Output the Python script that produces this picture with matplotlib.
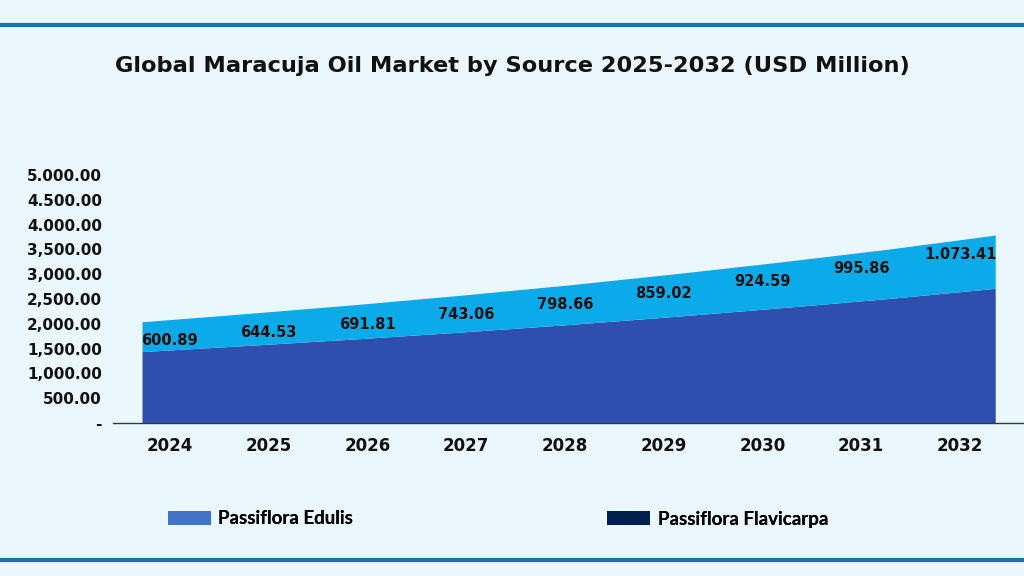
import matplotlib
matplotlib.use("Agg")
import matplotlib.pyplot as plt
from matplotlib.lines import Line2D
from matplotlib.patches import Patch
import numpy as np

# ── data ───────────────────────────────────────────────────────────────────
years = ["2024", "2025", "2026", "2027", "2028", "2029", "2030", "2031", "2032"]
edulis = [1440, 1565, 1695, 1835, 1985, 2150, 2325, 2510, 2715]
flavicarpa = [600.89, 644.53, 691.81, 743.06, 798.66, 859.02, 924.59, 995.86, 1073.41]
flavicarpa_labels = ["600.89", "644.53", "691.81", "743.06", "798.66",
                     "859.02", "924.59", "995.86", "1.073.41"]
y_ticks = [0, 500, 1000, 1500, 2000, 2500, 3000, 3500, 4000, 4500, 5000]
y_tick_labels = ["-", "500.00", "1,000.00", "1,500.00", "2,000.00", "2,500.00",
                 "3,000.00", "3,500.00", "4.000.00", "4.500.00", "5.000.00"]

BG = "#eaf7fd"
DARK_AREA = "#2e4fae"
LIGHT_AREA = "#0aabe8"
LEG_EDULIS = "#4472c4"
LEG_FLAVI = "#00204e"
RULE = "#1b73a3"
TXT = "#111111"

fig = plt.figure(figsize=(10.24, 5.76), dpi=100)
fig.patch.set_facecolor(BG)

ax = fig.add_axes([113 / 1024, 153 / 576, 911 / 1024, 248 / 576])
ax.set_facecolor(BG)

x = np.arange(len(years))
bottom = np.array(edulis, dtype=float)
vals = np.array(flavicarpa)
top = bottom + vals
ax.fill_between(x, 0, bottom, color=DARK_AREA, linewidth=0)
ax.fill_between(x, bottom, top, color=LIGHT_AREA, linewidth=0)

# category labels (and the data labels) sit on a slightly compressed grid
tick_pos = 0.26 + x * (7.41 / 8)

# data labels inside the light band, drifting upward to the right
band_base = np.interp(tick_pos, x, bottom)
band_h = np.interp(tick_pos, x, vals)
frac = np.linspace(0.3, 0.72, len(x))
for i, lab in enumerate(flavicarpa_labels):
    ax.text(tick_pos[i], band_base[i] + band_h[i] * frac[i], lab, ha="center", va="center",
            fontsize=10.5, fontweight="bold", color=TXT)

ax.set_xlim(-0.272, 8.27)
ax.set_ylim(0, 5000)

ax.set_yticks(y_ticks)
ax.set_yticklabels(y_tick_labels, fontsize=11, fontweight="bold", color=TXT)
ax.set_xticks(tick_pos)
ax.set_xticklabels(years, fontsize=12, fontweight="bold", color=TXT)
ax.tick_params(axis="both", length=0)
ax.tick_params(axis="y", pad=8)
ax.tick_params(axis="x", pad=10)

for side in ("top", "right", "left"):
    ax.spines[side].set_visible(False)
ax.spines["bottom"].set_color("#2b3a4a")
ax.spines["bottom"].set_linewidth(1.0)

fig.text(0.5, 1 - 66 / 576, "Global Maracuja Oil Market by Source 2025-2032 (USD Million)",
         ha="center", va="center", fontsize=16.2, fontweight="bold", color=TXT)

# horizontal rules top and bottom
for yy in (25, 560):
    fig.add_artist(Line2D([0, 1], [1 - yy / 576, 1 - yy / 576], color=RULE, linewidth=3))

# legend: two separate entries, far apart as in the reference
leg_prop = {"family": ["Lato", "DejaVu Sans"], "weight": "bold", "size": 13.5}
for color, label, x0 in ((LEG_EDULIS, "Passiflora Edulis", 151),
                         (LEG_FLAVI, "Passiflora Flavicarpa", 590)):
    leg = fig.legend(handles=[Patch(facecolor=color, label=label)], loc="center left",
                     bbox_to_anchor=(x0 / 1024, 1 - 519 / 576), frameon=False,
                     handlelength=2.3, handleheight=0.8, handletextpad=0.4,
                     prop=leg_prop)
    fig.add_artist(leg)

fig.savefig("out.png", dpi=100, facecolor=BG)
